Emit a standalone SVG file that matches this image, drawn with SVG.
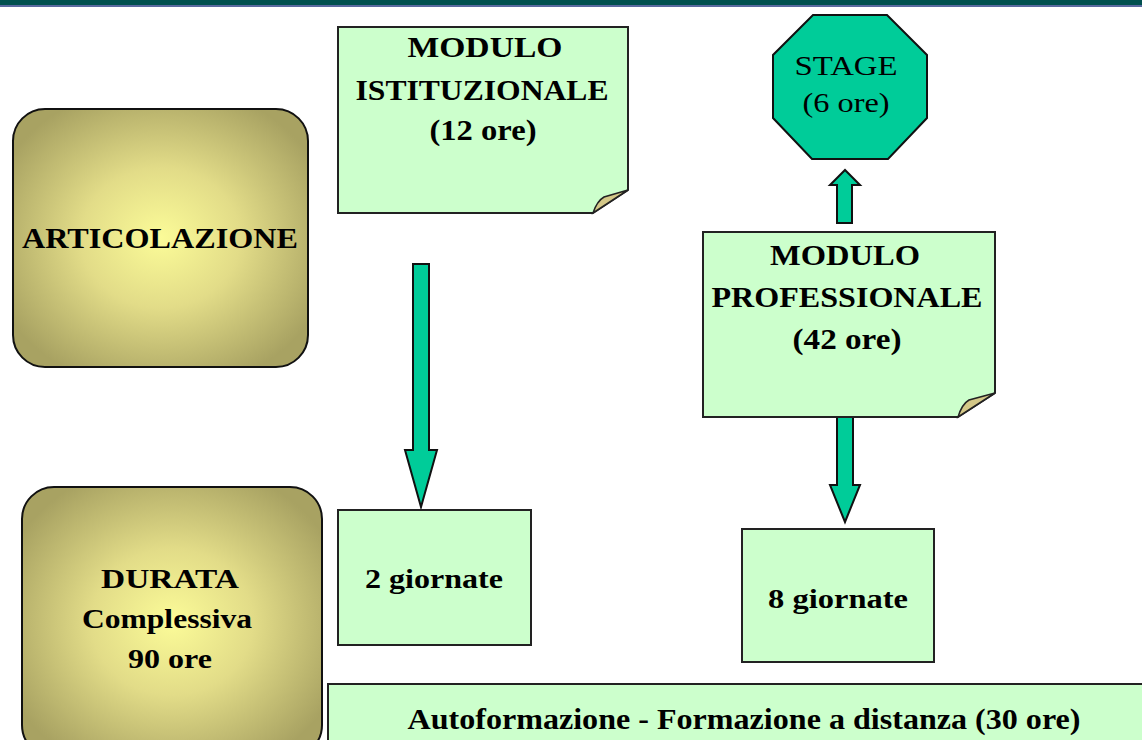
<svg xmlns="http://www.w3.org/2000/svg" width="1142" height="740" viewBox="0 0 1142 740">
<style>
.t{font-family:"Liberation Serif","Times New Roman",serif;font-weight:bold;fill:#000;text-anchor:middle}
.n{font-family:"Liberation Serif","Times New Roman",serif;font-weight:normal;fill:#000;text-anchor:middle}
.note{fill:#ccffcc;stroke:#222;stroke-width:2}
.fold{fill:#d4c888;stroke:#222;stroke-width:1.5}
.olive{fill:url(#og);stroke:#111;stroke-width:2}
.arrow{fill:#00cc99;stroke:#111;stroke-width:2}
</style>
<defs>
<radialGradient id="og" cx="50%" cy="50%" r="60%">
<stop offset="0" stop-color="#fbfb98"/>
<stop offset="0.45" stop-color="#e2dc88"/>
<stop offset="1" stop-color="#a8a262"/>
</radialGradient>
</defs>
<rect x="0" y="0" width="1142" height="730" fill="#ffffff"/>
<rect x="0" y="0" width="1142" height="5" fill="#00504f"/>
<rect x="0" y="5" width="1142" height="2" fill="#5a6aa0"/>

<g id="connectors">
<path class="arrow" d="M413,264 L429,264 L429,450 L437,450 L421,507 L405,450 L413,450 Z"/>
<path class="arrow" d="M837,417 L853,417 L853,485 L860,485 L845,522 L830,485 L837,485 Z"/>
<path class="arrow" d="M837,223 L852,223 L852,185 L860,185 L845,170 L830,185 L837,185 Z"/>
</g>

<g id="articolazione">
<rect class="olive" x="13" y="109" width="295" height="258" rx="32" ry="32"/>
<text class="t" x="160" y="248" font-size="30" textLength="276" lengthAdjust="spacingAndGlyphs">ARTICOLAZIONE</text>
</g>

<g id="durata">
<rect class="olive" x="22" y="487" width="300" height="270" rx="32" ry="32"/>
<text class="t" x="170" y="588" font-size="27" textLength="138" lengthAdjust="spacingAndGlyphs">DURATA</text>
<text class="t" x="167" y="628" font-size="27" textLength="170" lengthAdjust="spacingAndGlyphs">Complessiva</text>
<text class="t" x="170" y="668" font-size="27" textLength="84" lengthAdjust="spacingAndGlyphs">90 ore</text>
</g>

<g id="modulo-istituzionale">
<path class="note" d="M338,27 L628,27 L628,190 L593,213 L338,213 Z"/>
<path class="fold" d="M593,213 Q597,201 604,197 L628,190 Z"/>
<text class="t" x="485" y="57" font-size="29" textLength="155" lengthAdjust="spacingAndGlyphs">MODULO</text>
<text class="t" x="482" y="100" font-size="29" textLength="253" lengthAdjust="spacingAndGlyphs">ISTITUZIONALE</text>
<text class="t" x="483" y="140" font-size="29" textLength="107" lengthAdjust="spacingAndGlyphs">(12 ore)</text>
</g>

<g id="stage">
<polygon points="813,15 887,15 927,55 927,118 888,159 812,159 773,118 773,55" fill="#00cc99" stroke="#111" stroke-width="2"/>
<text class="n" x="846" y="75" font-size="28" textLength="103" lengthAdjust="spacingAndGlyphs">STAGE</text>
<text class="n" x="846" y="112" font-size="28" textLength="87" lengthAdjust="spacingAndGlyphs">(6 ore)</text>
</g>

<g id="modulo-professionale">
<path class="note" d="M703,232 L995,232 L995,393 L958,417 L703,417 Z"/>
<path class="fold" d="M958,417 Q962,404 969,400 L995,393 Z"/>
<text class="t" x="845" y="265" font-size="29" textLength="150" lengthAdjust="spacingAndGlyphs">MODULO</text>
<text class="t" x="847" y="307" font-size="29" textLength="271" lengthAdjust="spacingAndGlyphs">PROFESSIONALE</text>
<text class="t" x="847" y="349" font-size="29" textLength="109" lengthAdjust="spacingAndGlyphs">(42 ore)</text>
</g>

<g id="due-giornate">
<rect class="note" x="338" y="510" width="193" height="135"/>
<text class="t" x="434" y="588" font-size="27" textLength="138" lengthAdjust="spacingAndGlyphs">2 giornate</text>
</g>

<g id="otto-giornate">
<rect class="note" x="742" y="529" width="192" height="133"/>
<text class="t" x="838" y="608" font-size="27" textLength="140" lengthAdjust="spacingAndGlyphs">8 giornate</text>
</g>

<g id="autoformazione">
<rect class="note" x="328" y="684" width="830" height="70"/>
<text class="t" x="744" y="729" font-size="29" textLength="673" lengthAdjust="spacingAndGlyphs">Autoformazione - Formazione a distanza (30 ore)</text>
</g>
</svg>
